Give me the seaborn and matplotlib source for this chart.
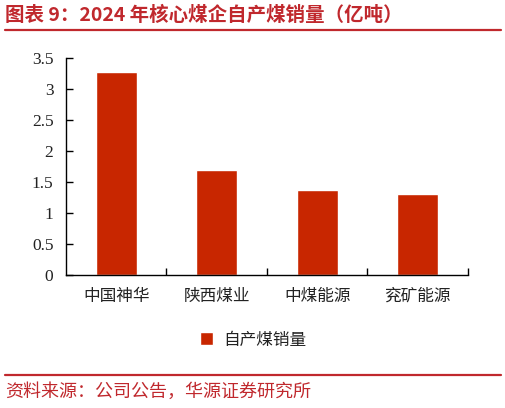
import matplotlib
matplotlib.use("Agg")
import matplotlib.pyplot as plt
import seaborn as sns
import pandas as pd
from matplotlib.lines import Line2D
from matplotlib.ticker import FixedLocator

categories = ["中国神华", "陕西煤业", "中煤能源", "兖矿能源"]
values = [3.28, 1.70, 1.38, 1.31]
series_name = "自产煤销量"
y_ticks = [0, 0.5, 1, 1.5, 2, 2.5, 3, 3.5]
y_tick_labels = ["0", "0.5", "1", "1.5", "2", "2.5", "3", "3.5"]
title_text = "图表 9：2024 年核心煤企自产煤销量（亿吨）"
source_text = "资料来源：公司公告，华源证券研究所"

BAR = "#C82600"
RED = "#C0282D"

sns.set_theme(style="white")
plt.rcParams["font.family"] = ["Noto Sans CJK SC", "DejaVu Sans"]

df = pd.DataFrame({"cat": categories, "val": values, "series": series_name})

fig = plt.figure(figsize=(5.06, 4.08), dpi=100)
ax = fig.add_axes([66/506, 1-275/408, (468-66)/506, (275-58.3)/408])

sns.barplot(data=df, x="cat", y="val", hue="series", palette=[BAR],
            width=0.41, ax=ax, legend=True, saturation=1)

ax.set_ylim(0, 3.5)
ax.set_xlim(-0.5, 3.5)
ax.set_yticks(y_ticks)
ax.set_yticklabels(y_tick_labels, fontfamily="Liberation Serif", fontsize=12.5)
ax.set_xlabel("")
ax.set_ylabel("")
for lab in ax.get_xticklabels():
    lab.set_fontsize(12)
    lab.set_color("#222222")
ax.tick_params(axis="y", which="major", left=True, direction="in", length=5, width=1,
               pad=9, colors="black", labelcolor="#222222")
ax.tick_params(axis="x", which="major", bottom=True, length=0, pad=9)
ax.xaxis.set_minor_locator(FixedLocator([0.5, 1.5, 2.5, 3.5]))
ax.tick_params(axis="x", which="minor", bottom=True, direction="in", length=5, width=1,
               colors="black")
for s in ["top", "right"]:
    ax.spines[s].set_visible(False)
for s in ["left", "bottom"]:
    ax.spines[s].set_color("black")
    ax.spines[s].set_linewidth(1)

leg = ax.legend(loc="center", bbox_to_anchor=(0.5, 1-340/408), bbox_transform=fig.transFigure,
                frameon=False, prop={"size": 12, "family": ["Noto Sans CJK SC", "DejaVu Sans"]},
                handlelength=0.8, handleheight=0.8, handletextpad=0.6)
for t in leg.get_texts():
    t.set_color("#222222")

fig.text(5/506, 1-15/408, title_text, color=RED, fontsize=14, fontweight="bold",
         ha="left", va="center")
fig.add_artist(Line2D([5/506, 501/506], [1-29.5/408, 1-29.5/408], color=RED, lw=1.6,
                      transform=fig.transFigure))
fig.add_artist(Line2D([5/506, 501/506], [1-375/408, 1-375/408], color=RED, lw=1.6,
                      transform=fig.transFigure))
fig.text(5/506, 1-392/408, source_text, color=RED, fontsize=13,
         ha="left", va="center")

fig.savefig("out.png", dpi=100)
